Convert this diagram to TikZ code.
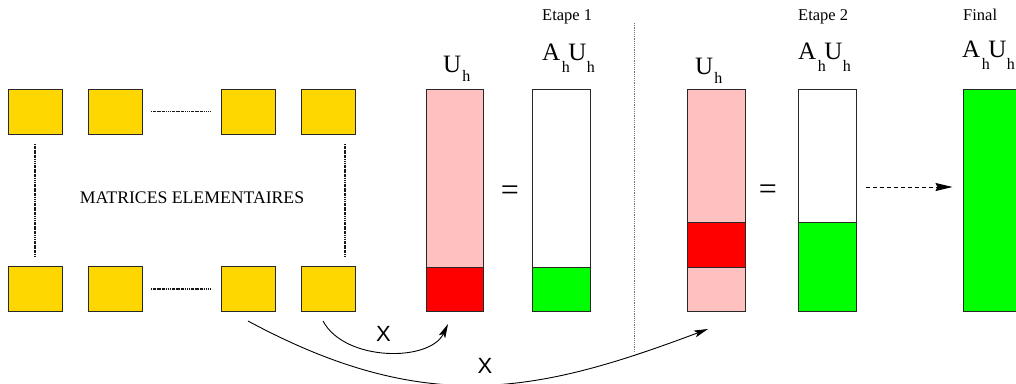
\documentclass[tikz,border=0pt]{standalone}
\usepackage{fontspec}
\setmainfont{Liberation Serif}
\newfontfamily\sansx{Liberation Sans}
\usetikzlibrary{arrows.meta}
\definecolor{gold}{RGB}{255,215,0}
\definecolor{pinkfill}{RGB}{255,192,192}
\definecolor{redfill}{RGB}{255,0,0}
\definecolor{greenfill}{RGB}{0,255,0}
\definecolor{edge}{RGB}{40,40,40}
\newcommand\bigf{\fontsize{25}{28}\selectfont}
\newcommand\subf{\fontsize{16}{18}\selectfont}
\newcommand\myAUh{{\bigf A}\kern1.5pt\raisebox{-12pt}{\subf h}\kern-1.5pt{\bigf U}\kern0.5pt\raisebox{-12pt}{\subf h}}
\newcommand\myUh{{\bigf U}\kern1pt\raisebox{-9pt}{\subf h}}
\tikzset{
  ysq/.style={draw=edge, fill=gold, line width=1pt, minimum width=54pt, minimum height=45pt, inner sep=0pt},
  barbox/.style={draw=edge, line width=1pt, minimum width=57pt, minimum height=222pt, inner sep=0pt},
  dotline/.style={line width=1.1pt, draw=black!90, dash pattern=on 1.6pt off 0.7pt on 0.8pt off 0.7pt},
  sepline/.style={line width=1pt, draw=black!55, dash pattern=on 1.2pt off 1pt},
  curvarrow/.style={line width=0.9pt, -{Stealth[length=14pt,width=7pt,inset=3pt]}},
  dasharrow/.style={line width=0.9pt, dash pattern=on 4pt off 3pt, -{Stealth[length=17pt,width=8pt,inset=2pt]}},
  lab/.style={inner sep=0pt, anchor=base west},
  steplab/.style={inner sep=0pt, anchor=base west, font=\fontsize{16.5}{19}\selectfont},
  eqlab/.style={inner sep=0pt, font=\fontsize{32}{36}\selectfont},
  xlab/.style={inner sep=0pt, font=\sansx\fontsize{22}{25}\selectfont},
}
\begin{document}
\begin{tikzpicture}[x=1pt,y=-1pt]
\useasboundingbox (0,0) rectangle (1016,383);
% elementary matrices
\node[ysq] (a1) at (35,111.5) {};
\node[ysq] (a2) at (115,111.5) {};
\node[ysq] (a3) at (248.5,111.5) {};
\node[ysq] (a4) at (328,111.5) {};
\node[ysq] (b1) at (35,289) {};
\node[ysq] (b2) at (115,289) {};
\node[ysq] (b3) at (248.5,289) {};
\node[ysq] (b4) at (328,289) {};
\draw[dotline, shorten <=8pt, shorten >=10pt] (a2.east) -- (a3.west);
\draw[dotline, shorten <=8pt, shorten >=10pt] (b2.east) -- (b3.west);
\draw[dotline, shorten <=9pt, shorten >=9pt] (a1.south) -- (b1.north);
\draw[dotline, shorten <=9pt, shorten >=9pt] ([xshift=17pt]a4.south) -- ([xshift=17pt]b4.north);
\node[font=\fontsize{17.7}{21}\selectfont, inner sep=0pt] (mt) at (192,198) {MATRICES ELEMENTAIRES};
% stage 1
\fill[pinkfill] (426,89) rectangle (483,267);
\fill[redfill] (426,267) rectangle (483,311);
\node[barbox] (u1) at (454.5,200) {};
\draw[edge, line width=1pt] (u1.west |- 0,267) -- (u1.east |- 0,267);
\fill[greenfill] (532,267) rectangle (590,311);
\node[barbox, minimum width=58pt] (p1) at (561,200) {};
\draw[edge, line width=1pt] (p1.west |- 0,267) -- (p1.east |- 0,267);
\node[eqlab] (eq1) at (510,193) {=};
\node[lab] (lu1) at (443,72) {\myUh};
\node[lab] (lp1) at (542,60) {\myAUh};
\node[steplab] (e1) at (542,20) {Etape 1};
% separator
\coordinate (st) at (634,23);
\coordinate (sb) at (634,352);
\draw[sepline] (st) -- (sb);
% stage 2
\fill[pinkfill] (687,89) rectangle (745,311);
\fill[redfill] (687,222) rectangle (745,267);
\node[barbox, minimum width=58pt] (u2) at (716,200) {};
\draw[edge, line width=1pt] (u2.west |- 0,222) -- (u2.east |- 0,222);
\draw[edge, line width=1pt] (u2.west |- 0,267) -- (u2.east |- 0,267);
\fill[greenfill] (798,222) rectangle (856,311);
\node[barbox, minimum width=58pt] (p2) at (827,200) {};
\draw[edge, line width=1pt] (p2.west |- 0,222) -- (p2.east |- 0,222);
\node[eqlab] (eq2) at (768,192) {=};
\node[lab] (lu2) at (695,74) {\myUh};
\node[lab] (lp2) at (798,59) {\myAUh};
\node[steplab] (e2) at (798,20) {Etape 2};
% final
\fill[greenfill] (963,89) rectangle (1021,311);
\node[barbox, minimum width=58pt] (fb) at (992,200) {};
\node[lab] (lf) at (962,57) {\myAUh};
\node[steplab] (ef) at (963,20) {Final};
\draw[dasharrow, shorten <=9pt, shorten >=10pt] (p2.east |- 0,187) coordinate (da) -- (fb.west |- 0,187) coordinate (db);
% curved arrows
\coordinate (c1s) at (323,321);
\coordinate (c1e) at (448,324);
\draw[curvarrow] (c1s) .. controls (345,362) and (430,362) .. (c1e);
\node[xlab] (x1) at (383.5,334) {X};
\coordinate (c2s) at (248,321);
\coordinate (c2e) at (708,329);
\draw[curvarrow] (c2s) .. controls (428,418) and (540,392) .. (c2e);
\node[xlab] (x2) at (485,365.5) {X};
\end{tikzpicture}
\end{document}
